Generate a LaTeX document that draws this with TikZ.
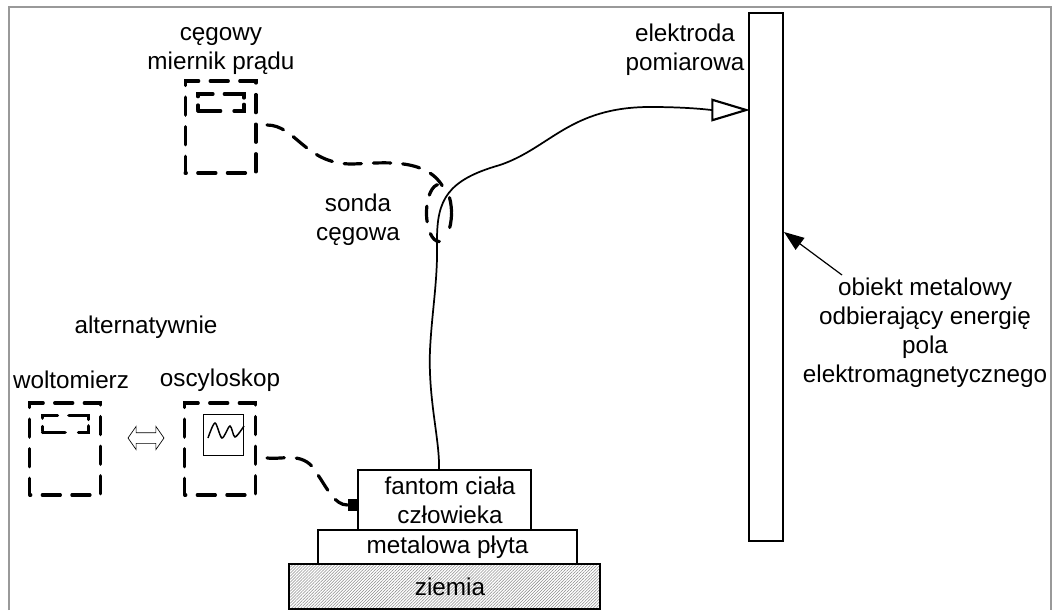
\documentclass[tikz,border=0pt]{standalone}
\usepackage{fontspec}
\setmainfont{Liberation Sans}
\usetikzlibrary{arrows.meta,shapes.arrows,patterns.meta}
\tikzset{
	opis/.style={align=center, font=\fontsize{18.2}{21.7}\selectfont, inner sep=0pt},
	blok/.style={draw, line width=1.6pt, inner sep=0pt, outer sep=0pt},
	miernik/.style={draw, line width=2.5pt, line cap=round, dash pattern=on 13.5pt off 8.7pt, dash phase=12.7pt, inner sep=0pt, outer sep=0pt, minimum width=53pt, minimum height=69pt},
	wyswietlacz/.style={draw, line width=2.5pt, line cap=round, dash pattern=on 17pt off 10pt on 12.5pt off 4.75pt on 17.75pt off 8.5pt on 13.25pt off 6.25pt on 3.5pt off 1pt, inner sep=0pt, outer sep=0pt, minimum width=34.5pt, minimum height=12.75pt},
	kabel/.style={line width=2.4pt, line cap=round, dash pattern=on 13pt off 9pt},
	pierscien/.style={line width=2.4pt, line cap=round, dash pattern=on 11pt off 13.75pt on 9.5pt off 9.25pt on 11.75pt off 8.5pt on 10.25pt off 14.5pt on 11pt off 1pt}
}
\begin{document}
\begin{tikzpicture}[x=0.75pt, y=-0.75pt]
	\useasboundingbox (0,0) rectangle (1052,610);
	\draw[line width=1.6pt, black!40] (9,610) -- (9,7) -- (1051,7) -- (1051,610);
	% przyrzady
	\node[miernik] (cegowy) at (220.5,127) {};
	\node[wyswietlacz] (cegowyekran) at (221,102.5) {};
	\node[opis] (cegowyopis) at (221,51) {cęgowy\\miernik prądu};
	\node[miernik] (woltomierz) at (65,449) {};
	\node[wyswietlacz] (woltomierzekran) at (65.5,424) {};
	\node[opis] (woltomierzopis) at (71,380) {woltomierz};
	\node[miernik] (oscyloskop) at (220,449) {};
	\node[draw, line width=0.9pt, inner sep=0pt, minimum width=30.5pt, minimum height=30.5pt] (ekran) at (223.5,435) {};
	\draw[line width=1.1pt] plot[smooth] coordinates {(208,438) (215,423) (222,438) (230,426) (235,437) (244,426)};
	\node[opis] (oscyloskopopis) at (220,380) {oscyloskop};
	\node[opis] (alternatywnie) at (146,327) {alternatywnie};
	\node[draw, line width=0.5pt, double arrow, double arrow head extend=4.7pt, double arrow tip angle=110, minimum height=27pt, inner xsep=0pt, inner ysep=3.75pt] (zamiennie) at (146,438) {};
	% stos
	\node[blok, pattern={Lines[distance=1.6pt, angle=45, line width=0.4pt]}, pattern color=black!45, minimum width=233pt, minimum height=33.75pt] (ziemia) at (444.5,586.5) {};
	\node[opis] (ziemiaopis) at (450,587) {ziemia};
	\node[blok, minimum width=194pt, minimum height=25.5pt] (plyta) at (447.5,547) {};
	\node[opis] at (plyta) {metalowa płyta};
	\node[blok, minimum width=130pt, minimum height=45pt] (fantom) at (444.5,500) {};
	\node[opis] (fantomopis) at (450,500.5) {fantom ciała\\człowieka};
	\node[fill=black, inner sep=0pt, minimum width=8pt, minimum height=9pt] (gniazdo) at (353,505) {};
	% obiekt
	\node[blok, minimum width=25.5pt, minimum height=396pt] (obiekt) at (766,277) {};
	\node[opis] (elektrodaopis) at (685,50) {elektroda\\pomiarowa};
	\node[opis] (sondaopis) at (358,220) {sonda\\cęgowa};
	\node[opis] (obiektopis) at (925,333) {obiekt metalowy\\odbierający energię\\pola\\elektromagnetycznego};
	\coordinate (styk) at (750,110);
	\coordinate (cegowywyj) at (267,125);
	\coordinate (sondawyj) at (443,187);
	\coordinate (oscyloskopwyj) at (267,458);
	\coordinate (wskaz) at (842,275);
	\coordinate (wskazkoniec) at (784,232);
	% polaczenia
	\draw[line width=1.3pt, -{Triangle[open, fill=white, length=29pt, width=17pt, line width=1.6pt]}] (fantom.north -| 439,470) .. controls (440,440) and (428,400) .. (430,350) .. controls (432,310) and (438,280) .. (437,240) .. controls (437,200) and (447,180) .. (500,165) .. controls (550,148) and (570,107) .. (650,107) .. controls (690,107) and (710,110) .. (styk);
	\draw[pierscien] (439,213) ellipse (12.5 and 28.5);
	\draw[kabel] (cegowywyj) .. controls (295,125) and (305,163) .. (350,164) .. controls (375,164) and (425,155) .. (sondawyj);
	\draw[kabel] (oscyloskopwyj) .. controls (285,460) and (305,450) .. (318,475) .. controls (328,490) and (335,505) .. (gniazdo.west);
	\draw[line width=0.9pt, -{Triangle[length=15pt, width=11pt]}] (wskaz) -- (wskazkoniec);
\end{tikzpicture}
\end{document}
